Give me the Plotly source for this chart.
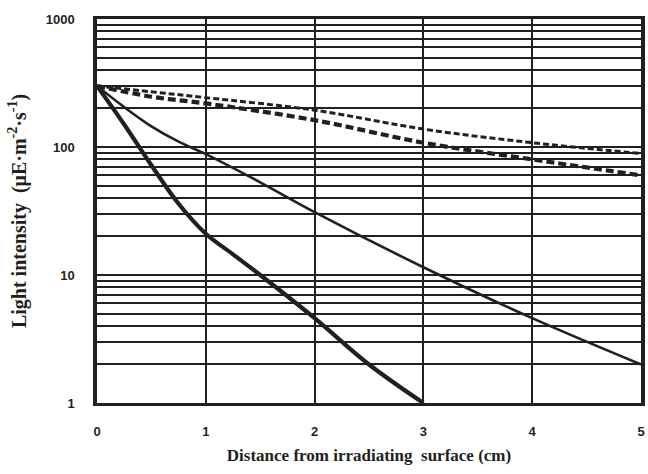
import plotly.graph_objects as go

# Data
x_thick = [0, 0.25, 0.5, 0.75, 1, 1.25, 1.5, 2, 2.5, 3]
y_thick = [300, 150, 72, 36, 21, 14.5, 10, 4.6, 2.0, 1.0]

x_thin = [0, 0.25, 0.5, 0.75, 1, 1.5, 2, 3, 4, 5]
y_thin = [300, 205, 145, 110, 88, 53, 31, 11.5, 4.6, 2.0]

x_dash = [0, 0.5, 1, 2, 3, 4, 5]
y_dash_upper = [300, 270, 243, 194, 138, 108, 89]
y_dash_lower = [300, 247, 219, 162, 108, 80, 60]

x_ticks = [0, 1, 2, 3, 4, 5]
y_ticks = [1, 10, 100, 1000]
y_tick_labels = ["1", "10", "100", "1000"]
y_minor = [m * d for d in (1, 10, 100) for m in range(2, 10)]

INK = "#231f20"

fig = go.Figure()
fig.add_trace(go.Scatter(x=x_thick, y=y_thick, mode="lines",
                         line=dict(color=INK, width=4.2, shape="spline", smoothing=1),
                         showlegend=False))
fig.add_trace(go.Scatter(x=x_thin, y=y_thin, mode="lines",
                         line=dict(color=INK, width=2.6, shape="spline", smoothing=1),
                         showlegend=False))
fig.add_trace(go.Scatter(x=x_dash, y=y_dash_upper, mode="lines",
                         line=dict(color=INK, width=3, dash="6px,3px", shape="spline"),
                         showlegend=False))
fig.add_trace(go.Scatter(x=x_dash, y=y_dash_lower, mode="lines",
                         line=dict(color=INK, width=4.2, dash="8px,4px", shape="spline"),
                         showlegend=False))

tick_font = dict(family="Liberation Sans, Arial, sans-serif", size=13, color=INK, weight="bold")
xtitle_font = dict(family="Liberation Serif, Times New Roman, serif", size=17, color=INK, weight="bold")
ytitle_font = dict(family="Liberation Serif, Times New Roman, serif", size=20, color=INK, weight="bold")

fig.update_layout(
    width=648, height=474,
    margin=dict(l=97, r=3, t=19, b=71),
    paper_bgcolor="white", plot_bgcolor="white",
    xaxis=dict(
        range=[0, 5], tickvals=x_ticks, tickfont=tick_font,
        showgrid=True, gridcolor=INK, gridwidth=2,
        showline=True, linecolor=INK, linewidth=3, mirror=True,
        ticks="inside", ticklen=4, tickwidth=2, tickcolor=INK,
        ticklabelstandoff=14, zeroline=False,
        title=dict(text="Distance from irradiating  surface (cm)", font=xtitle_font, standoff=12),
    ),
    yaxis=dict(
        type="log", range=[0, 3], tickvals=y_ticks, ticktext=y_tick_labels, tickfont=tick_font,
        showgrid=True, gridcolor=INK, gridwidth=2,
        minor=dict(tickvals=y_minor, showgrid=True, gridcolor=INK, gridwidth=2, ticks=""),
        showline=True, linecolor=INK, linewidth=3.5, mirror=True,
        ticks="inside", ticklen=5, tickwidth=2, tickcolor=INK,
        ticklabelstandoff=16, zeroline=False,
        title=dict(text="Light intensity  (μE·m<sup>-2</sup>·s<sup>-1</sup>)", font=ytitle_font, standoff=15),
    ),
)

fig.write_html("out.html")
